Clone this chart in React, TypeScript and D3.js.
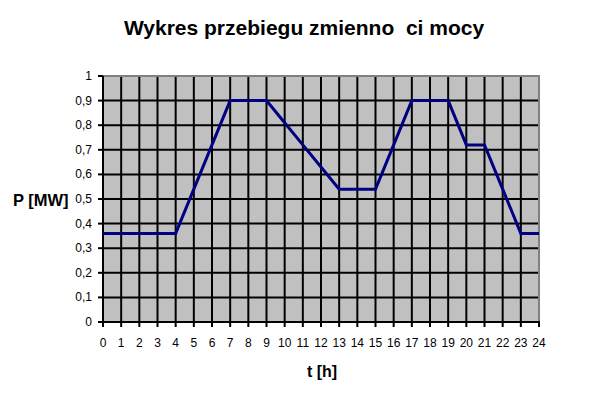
import React from "react";
import * as d3 from "d3";

const hours = [0,1,2,3,4,5,6,7,8,9,10,11,12,13,14,15,16,17,18,19,20,21,22,23,24];
const power = [0.36,0.36,0.36,0.36,0.36,0.54,0.72,0.9,0.9,0.9,0.81,0.72,0.63,0.54,0.54,0.54,0.72,0.9,0.9,0.9,0.72,0.72,0.54,0.36,0.36];
const yTicks = [0,0.1,0.2,0.3,0.4,0.5,0.6,0.7,0.8,0.9,1];
const title = "Wykres przebiegu zmienno  ci mocy";
const yTitle = "P [MW]";
const xTitle = "t [h]";

export default function App() {
  const W = 608, H = 398;
  const left = 103, right = 539, top = 76, bottom = 322;
  const x = d3.scaleLinear().domain([0, 24]).range([left, right]);
  const y = d3.scaleLinear().domain([0, 1]).range([bottom, top]);
  const line = d3.line<number>().x((_, i) => x(hours[i])).y((d) => y(d));
  const fmt = (v: number) => (v === 0 || v === 1 ? String(v) : v.toFixed(1).replace(".", ","));
  return (
    <svg width={W} height={H} style={{ position: "absolute", left: 0, top: 0, fontFamily: "Liberation Sans, Arial, sans-serif" }}>
      <rect x={0} y={0} width={W} height={H} fill="#fff" />
      <rect x={left} y={top} width={right - left} height={bottom - top} fill="#c0c0c0" />
      {hours.slice(1, -1).map((h) => (
        <line key={"vx" + h} x1={x(h)} x2={x(h)} y1={top} y2={bottom} stroke="#000" strokeWidth={2} />
      ))}
      {yTicks.slice(1, -1).map((t) => (
        <line key={"hy" + t} x1={left} x2={right} y1={y(t)} y2={y(t)} stroke="#000" strokeWidth={2} />
      ))}
      <path d={`M${left},${top}H${right}V${bottom}`} fill="none" stroke="#808080" strokeWidth={2} />
      <line x1={left} x2={left} y1={top} y2={bottom + 1} stroke="#000" strokeWidth={2} />
      <line x1={left - 1} x2={right + 1} y1={bottom} y2={bottom} stroke="#000" strokeWidth={2} />
      {yTicks.map((t) => (
        <g key={"yt" + t}>
          <line x1={left - 5} x2={left} y1={y(t)} y2={y(t)} stroke="#000" strokeWidth={2} />
          <text x={left - 11} y={y(t) + 4} fontSize={12} textAnchor="end">{fmt(t)}</text>
        </g>
      ))}
      {hours.map((h) => (
        <g key={"xt" + h}>
          <line x1={x(h)} x2={x(h)} y1={bottom} y2={bottom + 5} stroke="#000" strokeWidth={2} />
          <text x={x(h)} y={347} fontSize={12} textAnchor="middle">{h}</text>
        </g>
      ))}
      <path d={line(power) || ""} fill="none" stroke="#000080" strokeWidth={3} strokeLinejoin="miter" />
      <text x={304} y={35} fontSize={21} fontWeight="bold" textAnchor="middle" style={{ whiteSpace: "pre" }}>{title}</text>
      <text x={13} y={206} fontSize={16.5} fontWeight="bold">{yTitle}</text>
      <text x={322} y={377} fontSize={16} fontWeight="bold" textAnchor="middle">{xTitle}</text>
    </svg>
  );
}
